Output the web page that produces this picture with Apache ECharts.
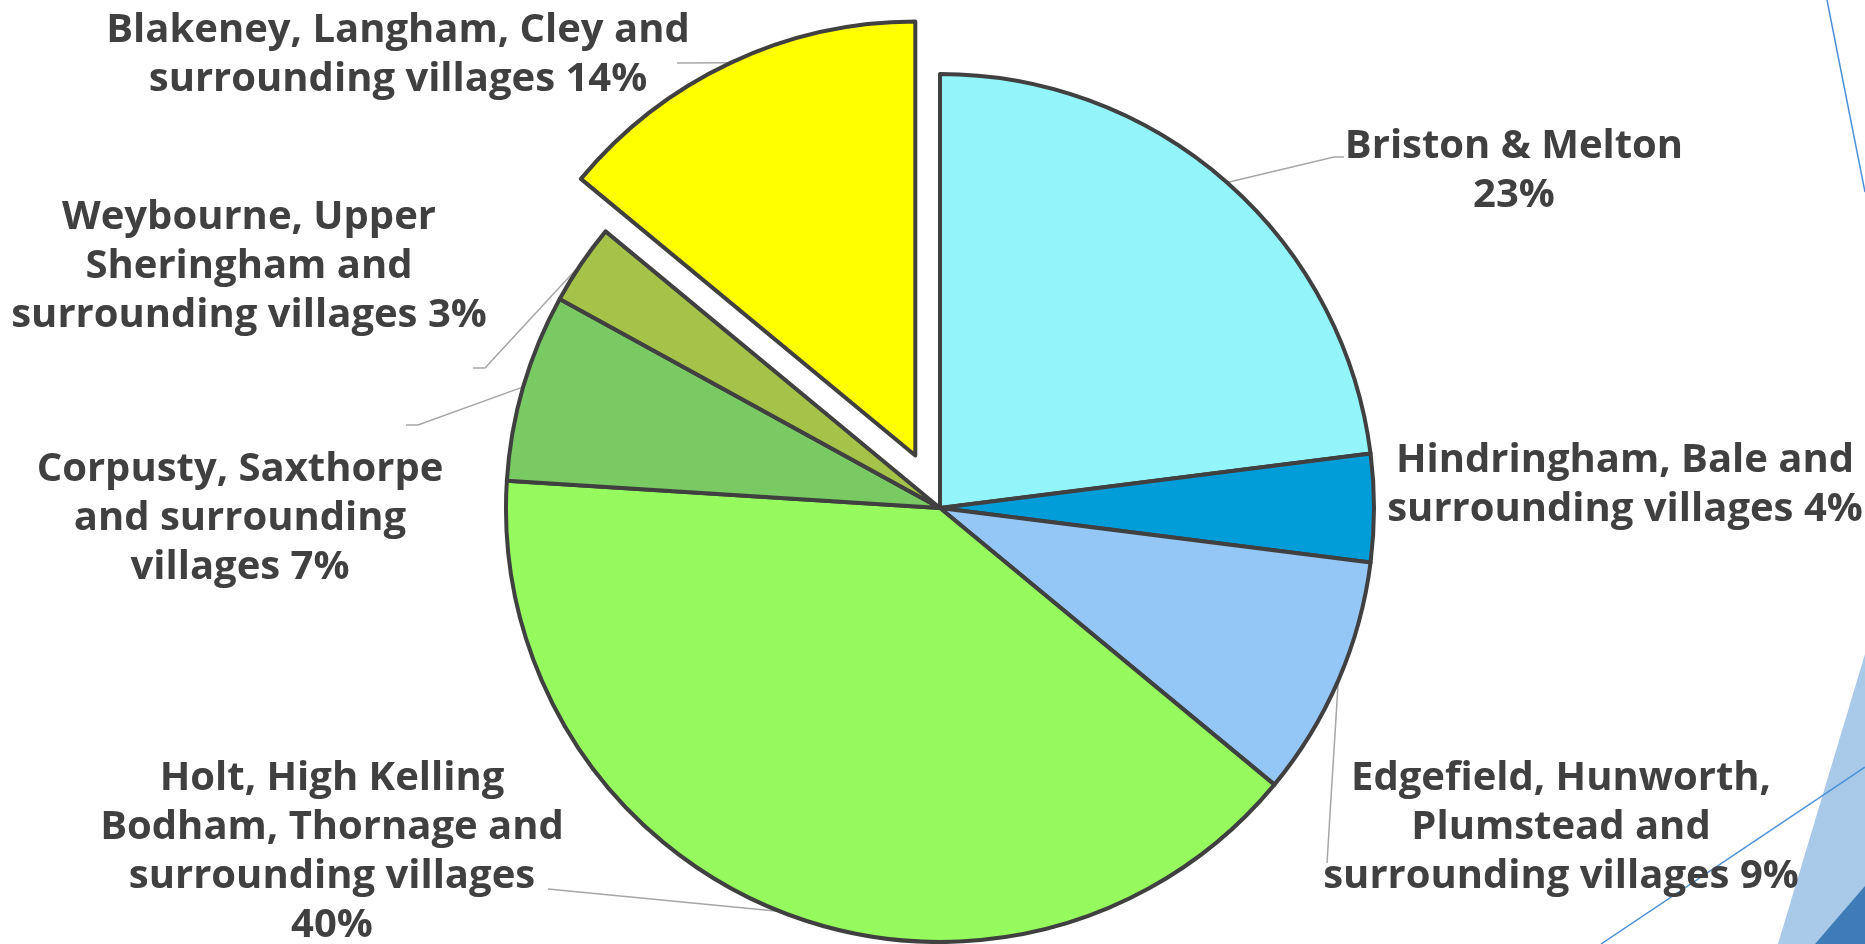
<!DOCTYPE html>
<html>
<head>
<meta charset="utf-8">
<title>Respondents by area</title>
<script src="https://cdn.jsdelivr.net/npm/echarts@6/dist/echarts.min.js"></script>
<style>
  html, body { margin: 0; padding: 0; background: #ffffff; }
  #chart { width: 1865px; height: 944px; }
</style>
</head>
<body>
<div id="chart"></div>
<script>
// Area names (line breaks where the label wraps), clockwise from 12 o'clock
const categories = [
  'Briston & Melton',
  'Hindringham, Bale and\nsurrounding villages',
  'Edgefield, Hunworth,\nPlumstead and\nsurrounding villages',
  'Holt, High Kelling\nBodham, Thornage and\nsurrounding villages',
  'Corpusty, Saxthorpe\nand surrounding\nvillages',
  'Weybourne, Upper\nSheringham and\nsurrounding villages',
  'Blakeney, Langham, Cley and\nsurrounding villages'
];
// Share of responses, percent
const values = [23, 4, 9, 40, 7, 3, 14];
// Separator placed between the name and its percentage
const valueSeparators = ['\n', ' ', ' ', '\n', ' ', ' ', ' '];
const sliceColors = ['#93F5FA', '#009DD9', '#95C7F6', '#96F95E', '#7ACA64', '#A5C249', '#FFFF00'];
const explodedIndex = 6;

// Pie geometry
const pieCenter = [940, 508];
const pieRadius = 434;
const explodeOffset = 58;

// Label block centres and leader-line bends
const labelAnchors = [
  [1514, 171], [1625, 485], [1561, 828], [332, 852], [240, 519], [249, 267], [398, 55]
];
const leaderBends = [
  [[1334, 157], [1344, 157]],
  null,
  [[1327, 863]],
  [[548, 889]],
  [[418, 425], [406, 425]],
  [[485, 368], [473, 368]],
  [[677, 63]]
];

const total = values.reduce((a, b) => a + b, 0);
function midAngle(i) {
  let before = 0;
  for (let k = 0; k < i; k++) before += values[k];
  return (before + values[i] / 2) / total * 2 * Math.PI;
}
// Centre of a slice's pie, pushed outwards along its bisector when exploded
function sliceCenter(i) {
  if (i !== explodedIndex) return pieCenter.slice();
  const a = midAngle(i);
  return [pieCenter[0] + explodeOffset * Math.sin(a), pieCenter[1] - explodeOffset * Math.cos(a)];
}
function edgePoint(i) {
  const a = midAngle(i);
  const c = sliceCenter(i);
  return [c[0] + pieRadius * Math.sin(a), c[1] - pieRadius * Math.cos(a)];
}

const hiddenItem = {
  itemStyle: { color: 'rgba(0,0,0,0)', borderWidth: 0 },
  label: { show: false },
  labelLine: { show: false }
};

// Each series carries every value so the angles agree; it only paints its own slices
function seriesData(drawn) {
  return categories.map((name, i) => {
    const item = { name: name, value: values[i] };
    if (drawn(i)) {
      item.itemStyle = { color: sliceColors[i] };
      item.labelLine = { show: leaderBends[i] !== null };
    } else {
      Object.assign(item, hiddenItem);
    }
    return item;
  });
}

function placeLabel(params) {
  const i = params.dataIndex;
  const out = {
    x: labelAnchors[i][0],
    y: labelAnchors[i][1],
    align: 'center',
    verticalAlign: 'middle'
  };
  if (leaderBends[i]) {
    out.labelLinePoints = [edgePoint(i)].concat(leaderBends[i]);
  }
  return out;
}

const baseSeries = {
  type: 'pie',
  radius: pieRadius,
  startAngle: 90,
  clockwise: true,
  avoidLabelOverlap: false,
  emphasis: { disabled: true },
  itemStyle: { borderColor: '#404040', borderWidth: 4 },
  label: {
    show: true,
    position: 'outside',
    color: '#404040',
    fontFamily: 'Open Sans',
    fontWeight: 'bold',
    fontSize: 40,
    lineHeight: 49,
    align: 'center',
    formatter: p => p.name + valueSeparators[p.dataIndex] + p.value + '%'
  },
  labelLine: {
    show: true,
    length: 20,
    length2: 20,
    lineStyle: { color: '#A6A6A6', width: 1.5 }
  },
  labelLayout: placeLabel
};

const chart = echarts.init(document.getElementById('chart'), null, { renderer: 'canvas' });
chart.setOption({
  animation: false,
  backgroundColor: '#ffffff',
  graphic: [
    { type: 'line', z: -1, shape: { x1: 1827, y1: 0, x2: 1865, y2: 192 }, style: { stroke: '#4A90D9', lineWidth: 1.5 } },
    { type: 'polygon', z: -1, shape: { points: [[1865, 654], [1778, 944], [1865, 944]] }, style: { fill: '#A9C9E8' } },
    { type: 'polygon', z: -1, shape: { points: [[1865, 886], [1815, 944], [1865, 944]] }, style: { fill: '#3F7BB6' } },
    { type: 'line', z: -1, shape: { x1: 1601, y1: 944, x2: 1865, y2: 767 }, style: { stroke: '#4A90D9', lineWidth: 1.5 } }
  ],
  series: [
    Object.assign({}, baseSeries, {
      name: 'areas',
      center: pieCenter,
      data: seriesData(i => i !== explodedIndex)
    }),
    Object.assign({}, baseSeries, {
      name: 'exploded',
      center: sliceCenter(explodedIndex),
      data: seriesData(i => i === explodedIndex)
    })
  ]
});
</script>
</body>
</html>
